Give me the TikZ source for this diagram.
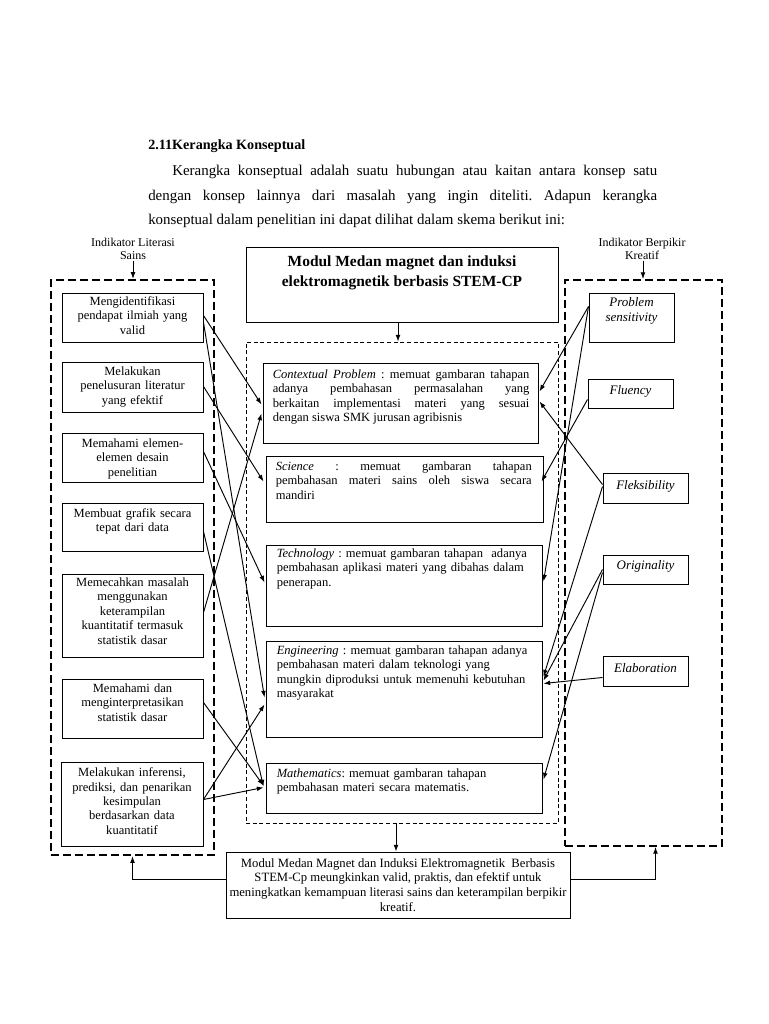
\documentclass[tikz,border=0pt]{standalone}
\usepackage{fontspec}
\setmainfont{Liberation Serif}
\usetikzlibrary{arrows.meta,calc,fit}
\begin{document}
\frenchspacing
\begin{tikzpicture}[x=0.75pt,y=-0.75pt,
  box/.style={draw, line width=0.75pt, inner sep=0pt},
  txt/.style={inner sep=0pt, font=\fontsize{9.4}{10.8}\selectfont},
  rtxt/.style={inner sep=0pt, font=\fontsize{9.75}{11.2}\selectfont\itshape, align=center},
  arr/.style={-{Latex[length=5pt,width=3.6pt]}, line width=0.7pt},
  ldash/.style={draw, line width=1.7pt, dash pattern=on 6pt off 3pt, inner sep=0pt},
  rdash/.style={draw, line width=1.4pt, dash pattern=on 6pt off 3pt, inner sep=0pt},
  mdash/.style={draw, line width=0.7pt, dash pattern=on 3pt off 2pt, inner sep=0pt},
  lab/.style={inner sep=0pt, font=\fontsize{9}{9.2}\selectfont, align=center}
]
\fill[white] (0,0) rectangle (768,1024);
\useasboundingbox (0,0) rectangle (768,1024);

% heading and paragraph
\node[anchor=west, inner sep=0pt, font=\fontsize{10.6}{13}\selectfont\bfseries] (head) at (148,146) {2.11Kerangka Konseptual};
\node[anchor=north west, inner sep=0pt, text width=381.75pt, align=justify, font=\fontsize{11.2}{18.3}\selectfont] (para) at (148,165)
 {\hspace*{18pt}Kerangka konseptual adalah suatu hubungan atau kaitan antara konsep satu\linebreak
  dengan konsep lainnya dari masalah yang ingin diteliti. Adapun kerangka\linebreak
  konseptual dalam penelitian ini dapat dilihat dalam skema berikut ini:};

% dashed containers
\node[ldash, fit={(51,280)(214,855)}] (LD) {};
\node[rdash, fit={(565,280)(722,846)}] (RD) {};
\node[mdash, fit={(246,342)(558,823)}] (MD) {};

% top labels
\node[lab] (labL) at (133,249) {Indikator Literasi\\Sains};
\node[lab] (labR) at (642,249) {Indikator Berpikir\\Kreatif};
\draw[arr] ($(labL.south)+(0,1)$) -- (labL.south |- LD.north);
\draw[arr] ($(labR.south)+(1,1)$) -- ($(labR.south |- RD.north)+(1,0)$);

% top box
\node[box, fit={(246,247)(558,322)}] (TB) {};
\node[inner sep=0pt, anchor=north, align=center, font=\fontsize{11.6}{15}\selectfont\bfseries] (TBt) at ($(TB.north)+(0,9)$)
 {Modul Medan magnet dan induksi\\elektromagnetik berbasis STEM-CP};
\draw[arr] ($(TB.south)+(-4,0)$) -- ($(MD.north)+(-4,0)$);

% left boxes
\node[box, fit={(62,293)(203,342)}] (L1) {};
\node[box, fit={(62,362)(203,412)}] (L2) {};
\node[box, fit={(62,433)(203,482)}] (L3) {};
\node[box, fit={(62,503)(203,551)}] (L4) {};
\node[box, fit={(62,574)(203,657)}] (L5) {};
\node[box, fit={(62,679)(203,738)}] (L6) {};
\node[box, fit={(61,762)(203,846)}] (L7) {};
\node[txt, anchor=north, align=center, text width=100pt] (L1t) at ($(L1.north)+(0,4)$) {Mengidentifikasi\\pendapat ilmiah yang\\valid};
\node[txt, anchor=north, align=center, text width=100pt] (L2t) at ($(L2.north)+(0,5)$) {Melakukan\\penelusuran literatur\\yang efektif};
\node[txt, anchor=north, align=center, text width=100pt] (L3t) at ($(L3.north)+(0,6)$) {Memahami elemen-\\elemen desain\\penelitian};
\node[txt, anchor=north, align=center, text width=100pt] (L4t) at ($(L4.north)+(0,6)$) {Membuat grafik secara\\tepat dari data};
\node[txt, anchor=north, align=center, text width=100pt] (L5t) at ($(L5.north)+(0,4)$) {Memecahkan masalah\\menggunakan\\keterampilan\\kuantitatif termasuk\\statistik dasar};
\node[txt, anchor=north, align=center, text width=100pt] (L6t) at ($(L6.north)+(0,5)$) {Memahami dan\\menginterpretasikan\\statistik dasar};
\node[txt, anchor=north, align=center, text width=104pt] (L7t) at ($(L7.north)+(0,6)$) {Melakukan inferensi,\\prediksi, dan penarikan\\kesimpulan\\berdasarkan data\\kuantitatif};

% middle boxes
\node[box, fit={(263,363)(538,443)}] (M1) {};
\node[box, fit={(266,456)(543,522)}] (M2) {};
\node[box, fit={(266,545)(542,626)}] (M3) {};
\node[box, fit={(266,641)(542,737)}] (M4) {};
\node[box, fit={(266,763)(542,813)}] (M5) {};
\node[txt, anchor=north west, align=justify, text width=192.5pt] (M1t) at ($(M1.north west)+(10,7)$)
 {\textit{Contextual Problem} : memuat gambaran tahapan\linebreak adanya pembahasan permasalahan yang\linebreak berkaitan implementasi materi yang sesuai\linebreak dengan siswa SMK jurusan agribisnis};
\node[txt, anchor=north west, align=justify, text width=192pt] (M2t) at ($(M2.north west)+(10,6)$)
 {\textit{Science} : memuat gambaran tahapan\linebreak pembahasan materi sains oleh siswa secara\linebreak mandiri};
\node[txt, anchor=north west, align=left, text width=200pt] (M3t) at ($(M3.north west)+(11,4)$)
 {\textit{Technology} : memuat gambaran tahapan\ \ adanya\\pembahasan aplikasi materi yang dibahas dalam\\penerapan.};
\node[txt, anchor=north west, align=left, text width=200pt] (M4t) at ($(M4.north west)+(11,5)$)
 {\textit{Engineering} : memuat gambaran tahapan adanya\\pembahasan materi dalam teknologi yang\\mungkin diproduksi untuk memenuhi kebutuhan\\masyarakat};
\node[txt, anchor=north west, align=left, text width=200pt] (M5t) at ($(M5.north west)+(11,6)$)
 {\textit{Mathematics}: memuat gambaran tahapan\\pembahasan materi secara matematis.};

% right boxes
\node[box, fit={(589,293)(674,342)}] (R1) {};
\node[box, fit={(588,379)(673,408)}] (R2) {};
\node[box, fit={(603,473)(688,503)}] (R3) {};
\node[box, fit={(603,555)(688,584)}] (R4) {};
\node[box, fit={(603,656)(688,686)}] (R5) {};
\node[rtxt] (R1t) at ($(R1.center)+(0,-7)$) {Problem\\sensitivity};
\node[rtxt] (R2t) at ($(R2.center)+(0,-2)$) {Fluency};
\node[rtxt] (R3t) at ($(R3.center)+(0,-2)$) {Fleksibility};
\node[rtxt] (R4t) at ($(R4.center)+(0,-3)$) {Originality};
\node[rtxt] (R5t) at ($(R5.center)+(0,-3)$) {Elaboration};

% left connectors
\draw[arr] ($(L1.north east)+(0,23)$) -- ($(M1.north west)+(-1,42)$);
\draw[arr] ($(L1.north east)+(0,30)$) -- ($(M4.north west)+(-1,57)$);
\draw[arr] ($(L2.north east)+(0,25)$) -- ($(M2.north west)+(-2,26)$);
\draw[arr] ($(L3.north east)+(0,19)$) -- ($(M3.north west)+(-1,38)$);
\draw[arr] ($(L4.north east)+(0,29)$) -- ($(M5.north west)+(-2,24)$);
\draw[arr] ($(L5.north east)+(0,39)$) -- ($(M1.north west)+(-1,51)$);
\draw[arr] ($(L6.north east)+(0,24)$) -- ($(M5.north west)+(-2,23)$);
\draw[arr] ($(L7.north east)+(0,38)$) -- ($(M4.north west)+(-1,64)$);
\draw[arr] ($(L7.north east)+(0,38)$) -- ($(M5.north west)+(-2,25)$);

% right connectors
\draw[arr] ($(R1.north west)+(0,14)$) -- ($(M1.north east)+(1,29)$);
\draw[arr] ($(R1.north west)+(0,14)$) -- ($(M3.north east)+(1,37)$);
\draw[arr] ($(R2.north west)+(0,21)$) -- ($(M2.north east)+(-2,26)$);
\draw[arr] ($(R3.north west)+(0,12)$) -- ($(M1.north east)+(1,39)$);
\draw[arr] ($(R3.north west)+(0,14)$) -- ($(M4.north east)+(1,36)$);
\draw[arr] ($(R4.north west)+(0,15)$) -- ($(M4.north east)+(1,40)$);
\draw[arr] ($(R4.north west)+(0,18)$) -- ($(M5.north east)+(1,17)$);
\draw[arr] ($(R5.north west)+(0,22)$) -- ($(M4.north east)+(1,43)$);

% bottom box
\node[box, fit={(226,852)(570,918)}] (BB) {};
\node[inner sep=0pt, align=center, font=\fontsize{9.5}{11}\selectfont] (BBt) at ($(BB.center)+(0,0)$)
 {Modul Medan Magnet dan Induksi Elektromagnetik\ \ Berbasis\\STEM-Cp meungkinkan valid, praktis, dan efektif untuk\\meningkatkan kemampuan literasi sains dan keterampilan berpikir\\kreatif.};
\draw[arr] ($(MD.south)+(-6,0)$) -- ($(MD.south |- BB.north)+(-6,0)$);
\draw[arr] ($(BB.north west)+(0,28)$) -| (LD.south);
\draw[arr] ($(BB.north east)+(0,28)$) -| ($(RD.south)+(12,0)$);
\end{tikzpicture}
\end{document}
